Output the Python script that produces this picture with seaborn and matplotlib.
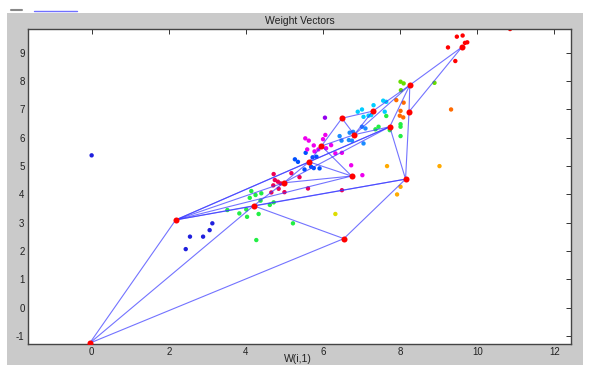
import numpy as np
import pandas as pd
import matplotlib
matplotlib.use("Agg")
import matplotlib.pyplot as plt
import seaborn as sns
from matplotlib.patches import Rectangle
from matplotlib.lines import Line2D

# ---------------- data ----------------
# SOM neuron weight positions (red nodes)
node_names = list("ABCDEFGHIJKLMNOP")
node_x = [9.60, 8.25, 8.23, 7.73, 7.29, 6.49, 6.81, 5.96, 5.64, 6.74, 8.14, 4.98, 4.20, 2.18, 6.54, -0.05]
node_y = [9.20, 7.86, 6.92, 6.39, 6.94, 6.69, 6.11, 5.71, 5.15, 4.65, 4.54, 4.41, 3.60, 3.10, 2.44, -1.25]
# neighbour links between neurons (pairs of node names)
edges = ["AB", "AC", "BC", "BE", "BG", "BD", "EF", "EG", "FG", "FH", "GD", "GH",
         "HI", "HJ", "ID", "IJ", "IL", "JL", "DK", "CK", "KO", "LD", "LM", "LN",
         "NI", "NJ", "NK", "ND", "MN", "MO", "MP", "NP", "OP", "MK"]

# input vectors, one list per cluster colour
red_x = [9.47, 9.62, 9.68, 9.74, 9.24, 9.43, 10.85]
red_y = [9.57, 9.61, 9.35, 9.37, 9.19, 8.71, 9.84]
navy_x = [0.00, 3.13, 3.06, 2.89, 2.55, 2.44]
navy_y = [5.38, 2.98, 2.74, 2.51, 2.51, 2.07]
green_x = [4.14, 4.25, 4.40, 4.10, 3.52, 3.83, 4.01, 4.03, 4.33, 4.62, 4.72, 4.38, 5.22, 4.27,
           7.64, 7.44, 7.36, 8.01, 8.01, 8.01, 7.73]
green_y = [4.12, 3.98, 4.04, 3.88, 3.45, 3.33, 3.47, 3.21, 3.31, 3.63, 3.72, 3.78, 2.98, 2.39,
           6.77, 6.39, 6.30, 6.48, 6.39, 6.06, 6.27]
lime_x = [8.01, 8.09, 8.02, 8.89]
lime_y = [7.98, 7.92, 7.68, 7.94]
orange_x = [7.90, 8.09, 8.01, 7.99, 8.08, 9.32]
orange_y = [7.33, 7.24, 6.95, 6.78, 6.72, 7.00]
cyan_x = [6.90, 7.01, 7.31, 7.56, 7.64, 7.18, 7.05, 7.25, 7.60]
cyan_y = [6.92, 7.00, 7.15, 7.31, 7.27, 6.78, 6.74, 6.80, 6.92]
sky_x = [7.01, 7.10, 6.78, 6.69, 6.43, 6.48, 6.67, 6.75, 7.05]
sky_y = [6.39, 6.33, 6.21, 6.18, 6.06, 5.90, 5.92, 5.90, 5.80]
blue_x = [5.55, 5.27, 5.35, 5.73, 5.83, 5.69, 5.76, 5.52, 5.91]
blue_y = [5.47, 5.24, 5.15, 5.31, 5.33, 4.98, 4.93, 4.88, 4.92]
purple_x = [6.05]
purple_y = [6.71]
magenta_x = [5.54, 5.63, 5.76, 5.59, 5.78, 6.00, 6.06, 5.88, 6.08, 6.21, 6.32, 6.49, 6.73, 7.02]
magenta_y = [5.98, 5.90, 5.73, 5.59, 5.52, 5.95, 6.10, 5.59, 5.63, 5.74, 5.45, 5.47, 5.03, 4.68]
crimson_x = [4.72, 4.75, 4.83, 4.90, 5.18, 5.39, 4.71, 4.85, 5.00, 4.66, 5.61, 6.49]
crimson_y = [4.72, 4.51, 4.45, 4.39, 4.75, 4.61, 4.32, 4.20, 4.08, 4.07, 4.21, 4.15]
amber_x = [7.66, 9.02, 8.01, 7.92]
amber_y = [5.00, 5.00, 4.27, 4.00]
yellow_x = [6.32]
yellow_y = [3.31]

x_ticks = [0, 2, 4, 6, 8, 10, 12]
y_ticks = [-1, 0, 1, 2, 3, 4, 5, 6, 7, 8, 9]

# ---------------- build tables ----------------
groups = {
    "red": (red_x, red_y, "#ff0000"),
    "navy": (navy_x, navy_y, "#1f1fdd"),
    "green": (green_x, green_y, "#22ee44"),
    "lime": (lime_x, lime_y, "#66dd00"),
    "orange": (orange_x, orange_y, "#ff6a00"),
    "cyan": (cyan_x, cyan_y, "#00ccff"),
    "sky": (sky_x, sky_y, "#1a8cff"),
    "blue": (blue_x, blue_y, "#0050ff"),
    "purple": (purple_x, purple_y, "#9400ee"),
    "magenta": (magenta_x, magenta_y, "#ee00ee"),
    "crimson": (crimson_x, crimson_y, "#ee0055"),
    "amber": (amber_x, amber_y, "#ffaa00"),
    "yellow": (yellow_x, yellow_y, "#dddd00"),
}
pts = pd.concat([pd.DataFrame({"x": gx, "y": gy, "grp": g}) for g, (gx, gy, _) in groups.items()],
                ignore_index=True)
palette = {g: c for g, (_, _, c) in groups.items()}

nodes = pd.DataFrame({"name": node_names, "x": node_x, "y": node_y}).set_index("name")
rows = []
for k, e in enumerate(edges):
    for n in e:
        rows.append({"edge": k, "x": nodes.loc[n, "x"], "y": nodes.loc[n, "y"]})
edf = pd.DataFrame(rows)

# ---------------- figure ----------------
sns.set_theme(style="white")
plt.rcParams["font.family"] = ["Liberation Sans", "DejaVu Sans"]

W, H = 590, 365
fig = plt.figure(figsize=(W / 100, H / 100), dpi=100, facecolor="white")
fig.patches.append(Rectangle((7 / W, 0), (583 - 7) / W, (H - 13) / H, transform=fig.transFigure,
                             facecolor="#cacaca", edgecolor="none", zorder=-10))
# cropped toolbar / legend remnants at the top
fig.add_artist(Line2D([11 / W, 22 / W], [1 - 10 / H] * 2, color="#888888", lw=1.5))
fig.add_artist(Line2D([34 / W, 77 / W], [1 - 11 / H] * 2, color="#7070ff", lw=1.0))

ax = fig.add_axes([28 / W, 21 / H, 543 / W, 314.7 / H])
ax.set_facecolor("white")

sns.scatterplot(data=pts, x="x", y="y", hue="grp", palette=palette, s=10, linewidth=0,
                legend=False, ax=ax, zorder=2)
sns.lineplot(data=edf, x="x", y="y", units="edge", estimator=None, sort=False,
             color="#3838ff", lw=0.8, alpha=0.7, ax=ax, zorder=3)
sns.scatterplot(data=nodes, x="x", y="y", color="#ff0000", s=19, marker="o", linewidth=0,
                ax=ax, zorder=4)

ax.set_xlim(-1.65, 12.43)
ax.set_ylim(-1.28, 9.83)
ax.set_xticks(x_ticks)
ax.set_yticks(y_ticks)
ax.set_xticklabels([str(v) for v in x_ticks])
ax.set_yticklabels([str(v) for v in y_ticks])
ax.set_xlabel("")
ax.set_ylabel("")
ax.tick_params(direction="in", length=3.5, width=0.7, top=True, right=True,
               labelsize=7, pad=2.5, color="#333333", labelcolor="#222222")
for s in ax.spines.values():
    s.set_color("#444444")
    s.set_linewidth(1.0)

ax.set_title("Weight Vectors", fontsize=7.5, color="#222222", pad=3.5)
fig.text(298 / W, 1 - 359.5 / H, "W(i,1)", ha="center", va="center", fontsize=7.5, color="#222222")

fig.savefig("out.png", dpi=100, facecolor=fig.get_facecolor())
